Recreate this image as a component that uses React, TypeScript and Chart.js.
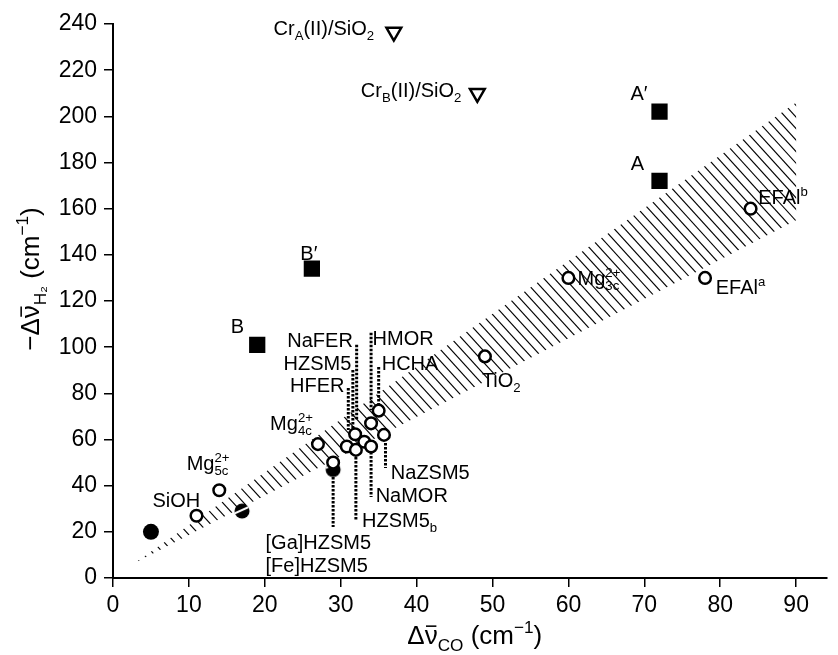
import React, { useEffect, useRef } from 'react';
import { Chart, registerables } from 'chart.js';

Chart.register(...registerables);

// ---------- data ----------
const xTickValues = [0, 10, 20, 30, 40, 50, 60, 70, 80, 90];
const yTickValues = [0, 20, 40, 60, 80, 100, 120, 140, 160, 180, 200, 220, 240];

// filled squares: A', A, B, B'
const squareX = [72, 72, 19, 26.2];
const squareY = [202, 172, 101, 134];

// open down-triangles: Cr_A(II)/SiO2, Cr_B(II)/SiO2
const triangleX = [37, 48];
const triangleY = [236.5, 210];

// open circles
const circleX = [84, 78, 60, 49, 11, 14, 27, 29, 30.8, 31.9, 32.0, 33.1, 34.0, 35.0, 34.0, 35.7];
const circleY = [160, 130, 130, 96, 27, 38, 58, 50, 57, 62.3, 55.5, 59, 67, 72.5, 57, 62];

// filled circle
const dotX = [5];
const dotY = [20];

// half-filled circles
const halfX = [17, 29];
const halfY = [29, 47];

// hatched band (correlation region)
const bandUpperX = [2.8, 90];
const bandUpperY = [6.4, 206];
const bandLowerX = [2.8, 90];
const bandLowerY = [6.4, 155];

// leader lines
const leaderX = [32.1, 34.0, 31.6, 35.0, 31.0, 29.0, 32.0, 34.0, 35.9];
const leaderY1 = [101, 106.2, 90.1, 91.4, 82.3, 43.8, 54.2, 54.6, 58.5];
const leaderY2 = [68.5, 72.8, 64.1, 74.1, 64.1, 22.1, 25.1, 35.1, 47.7];

// labels
type Seg = { t: string; k?: 'sub' | 'sup' | 'stack' | 'bar'; t2?: string };
const labelSegs: Seg[][] = [
  [{ t: 'Cr' }, { t: 'A', k: 'sub' }, { t: '(II)/SiO' }, { t: '2', k: 'sub' }],
  [{ t: 'Cr' }, { t: 'B', k: 'sub' }, { t: '(II)/SiO' }, { t: '2', k: 'sub' }],
  [{ t: 'A\u2032' }],
  [{ t: 'A' }],
  [{ t: 'B' }],
  [{ t: 'B\u2032' }],
  [{ t: 'EFAl' }, { t: 'b', k: 'sup' }],
  [{ t: 'EFAl' }, { t: 'a', k: 'sup' }],
  [{ t: 'Mg' }, { t: '2+', t2: '3c', k: 'stack' }],
  [{ t: 'TiO' }, { t: '2', k: 'sub' }],
  [{ t: 'SiOH' }],
  [{ t: 'Mg' }, { t: '2+', t2: '5c', k: 'stack' }],
  [{ t: 'Mg' }, { t: '2+', t2: '4c', k: 'stack' }],
  [{ t: 'NaFER' }],
  [{ t: 'HMOR' }],
  [{ t: 'HZSM5' }],
  [{ t: 'HCHA' }],
  [{ t: 'HFER' }],
  [{ t: '[Ga]HZSM5' }],
  [{ t: '[Fe]HZSM5' }],
  [{ t: 'HZSM5' }, { t: 'b', k: 'sub' }],
  [{ t: 'NaMOR' }],
  [{ t: 'NaZSM5' }],
];
const labelX = [34.4, 45.9, 69.3, 69.1, 16.4, 25.8, 85.0, 79.4, 61.2, 48.6, 11.5, 9.7, 20.7, 31.6, 34.2, 31.4, 35.4, 30.5, 20.1, 20.1, 32.8, 34.6, 36.6];
const labelY = [238.3, 211.5, 210.1, 179.8, 109.2, 140.8, 165.1, 126.1, 130, 85.8, 33.8, 49.8, 67.2, 103.1, 104, 93.2, 93.2, 83.6, 15.6, 5.6, 25.1, 36, 45.9];
const labelAlign = ['right', 'right', 'center', 'center', 'center', 'center', 'left', 'left', 'left', 'left', 'right', 'left', 'left', 'right', 'left', 'right', 'left', 'right', 'left', 'left', 'left', 'left', 'left'];

const xTitle: Seg[] = [{ t: '\u0394' }, { t: '\u03BD', k: 'bar' }, { t: 'CO', k: 'sub' }, { t: ' (cm' }, { t: '\u22121', k: 'sup' }, { t: ')' }];
const yTitle: Seg[] = [{ t: '\u2212\u0394' }, { t: '\u03BD', k: 'bar' }, { t: 'H\u2082', k: 'sub' }, { t: ' (cm' }, { t: '\u22121', k: 'sup' }, { t: ')' }];

const FONT = '"Liberation Sans", Arial, sans-serif';

function segWidth(ctx: CanvasRenderingContext2D, s: Seg, size: number) {
  const small = size * 0.66;
  if (!s.k || s.k === 'bar') {
    ctx.font = `${size}px ${FONT}`;
    return ctx.measureText(s.t).width;
  }
  ctx.font = `${small}px ${FONT}`;
  if (s.k === 'stack') return Math.max(ctx.measureText(s.t).width, ctx.measureText(s.t2 || '').width);
  return ctx.measureText(s.t).width;
}

function drawRich(ctx: CanvasRenderingContext2D, segs: Seg[], x: number, y: number, align: string, size: number) {
  const total = segs.reduce((a, s) => a + segWidth(ctx, s, size), 0);
  let cx = align === 'right' ? x - total : align === 'center' ? x - total / 2 : x;
  const base = y + size * 0.36;
  ctx.fillStyle = '#000';
  ctx.strokeStyle = '#000';
  ctx.textBaseline = 'alphabetic';
  ctx.textAlign = 'left';
  const small = size * 0.66;
  for (const s of segs) {
    const w = segWidth(ctx, s, size);
    if (!s.k || s.k === 'bar') {
      ctx.font = `${size}px ${FONT}`;
      ctx.fillText(s.t, cx, base);
      if (s.k === 'bar') {
        ctx.lineWidth = Math.max(1.2, size * 0.06);
        ctx.beginPath();
        ctx.moveTo(cx + w * 0.1, base - size * 0.7);
        ctx.lineTo(cx + w * 0.9, base - size * 0.7);
        ctx.stroke();
      }
    } else {
      ctx.font = `${small}px ${FONT}`;
      if (s.k === 'sub') ctx.fillText(s.t, cx, base + size * 0.25);
      else if (s.k === 'sup') ctx.fillText(s.t, cx, base - size * 0.42);
      else {
        ctx.fillText(s.t, cx, base - size * 0.42);
        ctx.fillText(s.t2 || '', cx, base + size * 0.25);
      }
    }
    cx += w;
  }
}

function makeHalfCircle(stripeOffset: number) {
  const c = document.createElement('canvas');
  c.width = 18;
  c.height = 18;
  const g = c.getContext('2d')!;
  g.fillStyle = '#000';
  g.beginPath();
  g.arc(9, 9, 7.5, 0, Math.PI * 2);
  g.fill();
  g.save();
  g.beginPath();
  g.arc(9, 9, 7.5, 0, Math.PI * 2);
  g.clip();
  g.strokeStyle = '#fff';
  g.lineWidth = 2;
  g.beginPath();
  g.moveTo(0, 12 + stripeOffset);
  g.lineTo(18, 4 + stripeOffset);
  g.stroke();
  g.restore();
  return c;
}

const overlayPlugin = {
  id: 'overlay',
  beforeDatasetsDraw(chart: any) {
    const { ctx, scales } = chart;
    const xs = scales.x;
    const ys = scales.y;
    // hatched band
    const poly: [number, number][] = [];
    for (let i = 0; i < bandUpperX.length; i++) poly.push([xs.getPixelForValue(bandUpperX[i]), ys.getPixelForValue(bandUpperY[i])]);
    for (let i = bandLowerX.length - 1; i >= 0; i--) poly.push([xs.getPixelForValue(bandLowerX[i]), ys.getPixelForValue(bandLowerY[i])]);
    ctx.save();
    ctx.beginPath();
    poly.forEach(([px, py], i) => (i ? ctx.lineTo(px, py) : ctx.moveTo(px, py)));
    ctx.closePath();
    ctx.clip();
    ctx.strokeStyle = '#000';
    ctx.lineWidth = 1.15;
    const minY = Math.min(...poly.map((p) => p[1])) - 5;
    const maxY = Math.max(...poly.map((p) => p[1])) + 5;
    const slope = 1.1;
    const span = (maxY - minY) / slope;
    const minX = Math.min(...poly.map((p) => p[0])) - span - 20;
    const maxX = Math.max(...poly.map((p) => p[0])) + 20;
    for (let sx = minX; sx < maxX; sx += 10.5) {
      ctx.beginPath();
      ctx.moveTo(sx, minY);
      ctx.lineTo(sx + span, maxY);
      ctx.stroke();
    }
    ctx.restore();
    // leader lines
    ctx.save();
    ctx.strokeStyle = '#000';
    ctx.lineWidth = 3;
    ctx.setLineDash([2.5, 1.5]);
    for (let i = 0; i < leaderX.length; i++) {
      const px = xs.getPixelForValue(leaderX[i]);
      ctx.beginPath();
      ctx.moveTo(px, ys.getPixelForValue(leaderY1[i]));
      ctx.lineTo(px, ys.getPixelForValue(leaderY2[i]));
      ctx.stroke();
    }
    ctx.restore();
  },
  afterDraw(chart: any) {
    const { ctx, scales } = chart;
    const xs = scales.x;
    const ys = scales.y;
    ctx.save();
    for (let i = 0; i < labelSegs.length; i++) {
      drawRich(ctx, labelSegs[i], xs.getPixelForValue(labelX[i]), ys.getPixelForValue(labelY[i]), labelAlign[i], 20);
    }
    // axis titles
    drawRich(ctx, xTitle, (xs.left + xs.right) / 2 + 5, 635, 'center', 26);
    ctx.translate(30, (ys.top + ys.bottom) / 2 - 22);
    ctx.rotate(-Math.PI / 2);
    drawRich(ctx, yTitle, 0, 0, 'center', 26);
    ctx.restore();
  },
};

export default function App() {
  const ref = useRef<HTMLCanvasElement>(null);
  useEffect(() => {
    document.body.style.margin = '0';
    const canvas = ref.current!;
    const half1 = makeHalfCircle(0);
    const half2 = makeHalfCircle(-4);
    const pts = (xa: number[], ya: number[]) => xa.map((x, i) => ({ x, y: ya[i] }));
    const chart = new Chart(canvas, {
      type: 'scatter',
      data: {
        datasets: [
          { data: pts(squareX, squareY), pointStyle: 'rect', pointRadius: 11.5, backgroundColor: '#000', borderColor: '#000', borderWidth: 0 },
          { data: pts(triangleX, triangleY), pointStyle: 'triangle', rotation: 180, pointRadius: 8.5, backgroundColor: '#fff', borderColor: '#000', borderWidth: 2.5 },
          { data: pts(circleX, circleY), pointStyle: 'circle', pointRadius: 5.8, backgroundColor: '#fff', borderColor: '#000', borderWidth: 2.5 },
          { data: pts(dotX, dotY), pointStyle: 'circle', pointRadius: 8, backgroundColor: '#000', borderColor: '#000', borderWidth: 0 },
          { data: [{ x: halfX[0], y: halfY[0] }], pointStyle: half1 as any, pointRadius: 8 },
          { data: [{ x: halfX[1], y: halfY[1] }], pointStyle: half2 as any, pointRadius: 8 },
        ] as any,
      },
      options: {
        animation: false,
        responsive: false,
        events: [],
        layout: { padding: { top: 24, right: 2, left: 0, bottom: 0 } },
        plugins: { legend: { display: false }, tooltip: { enabled: false }, title: { display: false } },
        scales: {
          x: {
            type: 'linear',
            min: 0,
            max: 94,
            afterBuildTicks: (s: any) => { s.ticks = xTickValues.map((v) => ({ value: v })); },
            afterFit: (s: any) => { s.height = 77; },
            ticks: { color: '#000', font: { family: FONT, size: 23 }, padding: 5, maxRotation: 0, autoSkip: false },
            grid: { display: true, drawOnChartArea: false, drawTicks: true, tickLength: 9, color: '#000', lineWidth: 1.5 },
            border: { display: true, color: '#000', width: 2 },
            title: { display: false },
          },
          y: {
            type: 'linear',
            min: 0,
            max: 240,
            afterBuildTicks: (s: any) => { s.ticks = yTickValues.map((v) => ({ value: v })); },
            afterFit: (s: any) => { s.width = 113; },
            ticks: { color: '#000', font: { family: FONT, size: 23 }, padding: 7, autoSkip: false },
            grid: { display: true, drawOnChartArea: false, drawTicks: true, tickLength: 9, color: '#000', lineWidth: 1.5 },
            border: { display: true, color: '#000', width: 2 },
            title: { display: false },
          },
        },
      } as any,
      plugins: [overlayPlugin],
    });
    return () => chart.destroy();
  }, []);
  return (
    <div style={{ width: 838, height: 655 }}>
      <canvas ref={ref} width={838} height={655} style={{ display: 'block' }} />
    </div>
  );
}
